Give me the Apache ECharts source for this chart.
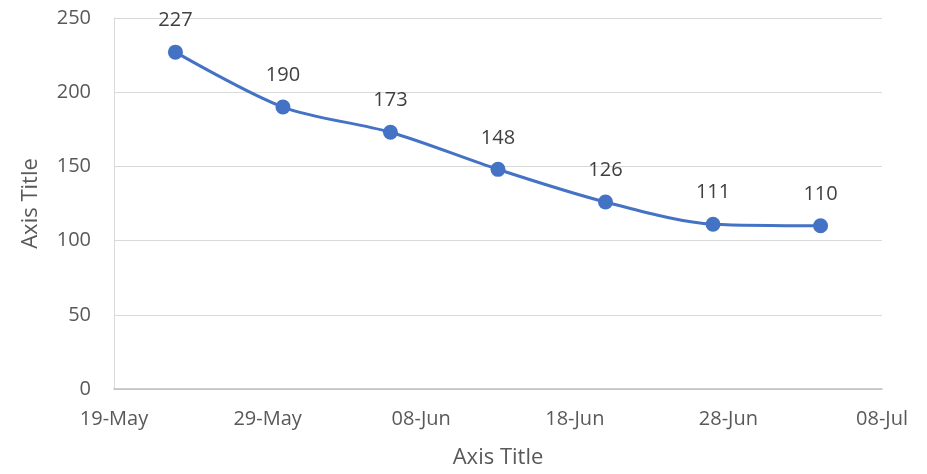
<!DOCTYPE html>
<html>
  <head>
    <meta charset="utf-8" />
    <title>ECharts</title>
    <script src="https://cdn.jsdelivr.net/npm/echarts@6/dist/echarts.min.js"></script>
  </head>
  <body style="margin:0;background:#fff;">
    <div id="main" style="width: 927px;height:474px;"></div>
    <script type="text/javascript">
      // data
      var dates = ["2020-05-23", "2020-05-30", "2020-06-06", "2020-06-13", "2020-06-20", "2020-06-27", "2020-07-04"];
      var values = [227, 190, 173, 148, 126, 111, 110];
      var axisStart = "2020-05-19";
      var axisEnd = "2020-07-08";
      var yTicks = [0, 50, 100, 150, 200, 250];

      var DAY = 24 * 3600 * 1000;
      var base = Date.parse(axisStart + "T00:00:00Z");
      var months = ["Jan", "Feb", "Mar", "Apr", "May", "Jun", "Jul", "Aug", "Sep", "Oct", "Nov", "Dec"];

      function dayOffset(s) {
        return Math.round((Date.parse(s + "T00:00:00Z") - base) / DAY);
      }
      function dayLabel(v) {
        var d = new Date(base + v * DAY);
        var dd = d.getUTCDate();
        return (dd < 10 ? "0" + dd : dd) + "-" + months[d.getUTCMonth()];
      }

      var seriesData = dates.map(function (d, i) {
        return [dayOffset(d), values[i]];
      });

      var myChart = echarts.init(document.getElementById("main"));
      var font = "'Open Sans', 'Liberation Sans', sans-serif";

      var option = {
        backgroundColor: "#fff",
        animation: false,
        grid: { left: 114, right: 45, top: 18, bottom: 85 },
        xAxis: {
          type: "value",
          min: 0,
          max: dayOffset(axisEnd),
          interval: 10,
          name: "Axis Title",
          nameLocation: "middle",
          nameGap: 58,
          nameTextStyle: { color: "#595959", fontSize: 22, fontFamily: font },
          axisLine: { show: true, lineStyle: { color: "#bfbfbf", width: 1.5 } },
          axisTick: { show: false },
          splitLine: { show: false },
          axisLabel: {
            color: "#595959",
            fontSize: 20,
            fontFamily: font,
            margin: 20,
            formatter: dayLabel
          }
        },
        yAxis: {
          type: "value",
          min: yTicks[0],
          max: yTicks[yTicks.length - 1],
          interval: 50,
          name: "Axis Title",
          nameLocation: "middle",
          nameGap: 72,
          nameTextStyle: { color: "#595959", fontSize: 22, fontFamily: font },
          axisLine: { show: true, lineStyle: { color: "#d9d9d9", width: 1 } },
          axisTick: { show: false },
          splitLine: { lineStyle: { color: "#d9d9d9", width: 1 } },
          axisLabel: { color: "#595959", fontSize: 20, fontFamily: font, margin: 23 }
        },
        series: [
          {
            type: "line",
            data: seriesData,
            smooth: 0.3,
            symbol: "circle",
            symbolSize: 15,
            lineStyle: { color: "#4472C4", width: 3 },
            itemStyle: { color: "#4472C4" },
            label: {
              show: true,
              position: "top",
              distance: 14,
              color: "#404040",
              fontSize: 20,
              fontFamily: font,
              formatter: function (p) {
                return p.value[1];
              }
            }
          }
        ]
      };

      myChart.setOption(option);
    </script>
  </body>
</html>
